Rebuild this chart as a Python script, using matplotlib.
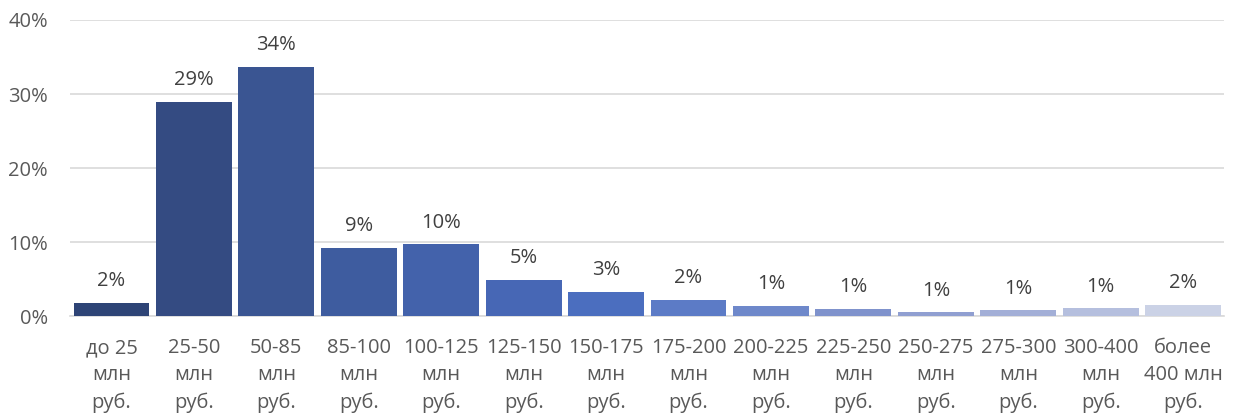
import matplotlib
matplotlib.use("Agg")
import matplotlib.pyplot as plt
from matplotlib.ticker import FuncFormatter

categories = ["до 25\nмлн\nруб.", "25-50\nмлн\nруб.", "50-85\nмлн\nруб.", "85-100\nмлн\nруб.",
              "100-125\nмлн\nруб.", "125-150\nмлн\nруб.", "150-175\nмлн\nруб.", "175-200\nмлн\nруб.",
              "200-225\nмлн\nруб.", "225-250\nмлн\nруб.", "250-275\nмлн\nруб.", "275-300\nмлн\nруб.",
              "300-400\nмлн\nруб.", "более\n400 млн\nруб."]
values = [1.8, 28.9, 33.7, 9.2, 9.7, 4.9, 3.3, 2.2, 1.35, 0.95, 0.5, 0.8, 1.05, 1.5]
labels = ["2%", "29%", "34%", "9%", "10%", "5%", "3%", "2%", "1%", "1%", "1%", "1%", "1%", "2%"]
colors = ["#2E4476", "#344B82", "#3A5592", "#3E5C9F", "#4362AB", "#4767B5", "#4B6EBF", "#5C7BC6",
          "#6E88CA", "#7F92CC", "#909FD1", "#A3AFD7", "#B5BFDE", "#CBD2E6"]

plt.rcParams['font.family'] = ['Open Sans', 'DejaVu Sans']

fig = plt.figure(figsize=(12.33, 4.16), dpi=100)
ax = fig.add_axes([0.057, 0.240, 0.936, 0.712])

x = list(range(len(values)))
ax.bar(x, values, width=0.92, color=colors, zorder=3)
for xi, v, lab in zip(x, values, labels):
    ax.annotate(lab, (xi, v), xytext=(0, 12), textcoords="offset points",
                ha="center", va="baseline", fontsize=14.5, color="#404040")

ax.set_xlim(-0.5, len(values) - 0.5)
ax.set_ylim(0, 40)
ax.set_yticks([0, 10, 20, 30, 40])
ax.yaxis.set_major_formatter(FuncFormatter(lambda v, p: f"{int(v)}%"))
ax.set_xticks(x)
ax.set_xticklabels(categories, linespacing=1.45)
ax.tick_params(axis="x", length=0, pad=16, labelsize=14.5, colors="#595959")
ax.tick_params(axis="y", length=0, pad=16, labelsize=14.5, colors="#595959")
ax.grid(axis="y", color="#D9D9D9", linewidth=1.2, zorder=0)
for s in ["top", "right", "left"]:
    ax.spines[s].set_visible(False)
ax.spines["bottom"].set_color("#D9D9D9")
ax.spines["bottom"].set_linewidth(1.2)

fig.savefig("out.png", dpi=100, facecolor="white")
